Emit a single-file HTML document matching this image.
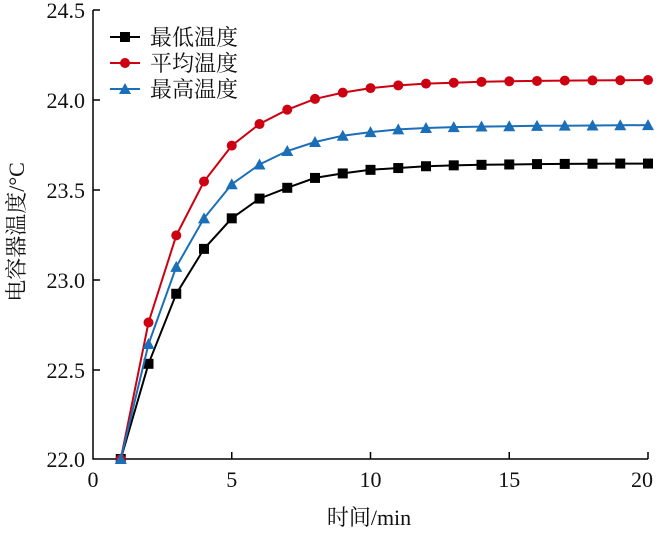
<!DOCTYPE html>
<html><head><meta charset="utf-8"><style>
body{margin:0;background:#fff;width:659px;height:531px;overflow:hidden}
text{font-family:"Liberation Serif","Noto Serif CJK SC",serif;fill:#111}
</style></head><body>
<svg id="s" width="659" height="531" xmlns="http://www.w3.org/2000/svg">
<g stroke="#000" stroke-width="1.5" fill="none">
<path d="M93,10 V459 H648"/>
<path d="M93,10 H100 M93,100 H100 M93,190 H100 M93,280 H100 M93,370 H100"/>
<path d="M231.75,459 V452 M370.5,459 V452 M509.25,459 V452 M648,459 V452"/>
</g>
<g font-size="22" text-anchor="end">
<text x="85" y="18">24.5</text><text x="85" y="108">24.0</text><text x="85" y="198">23.5</text>
<text x="85" y="288">23.0</text><text x="85" y="378">22.5</text><text x="85" y="467">22.0</text>
</g>
<g font-size="22" text-anchor="middle">
<text x="93" y="487">0</text><text x="231.75" y="487">5</text><text x="370.5" y="487">10</text>
<text x="509.25" y="487">15</text><text x="642" y="487">20</text>
<text x="369" y="525">时间/min</text>
</g>
<text font-size="22" text-anchor="middle" transform="translate(24,232) rotate(-90)">电容器温度/°C</text>
<g font-size="22">
<path d="M110,37 H140" stroke="#000" stroke-width="2"/><rect x="120" y="32" width="10" height="10" fill="#000"/>
<text x="150" y="45">最低温度</text>
<path d="M110,63 H140" stroke="#cc0011" stroke-width="2"/><circle cx="125" cy="63" r="5" fill="#cc0011"/>
<text x="150" y="71">平均温度</text>
<path d="M110,89 H140" stroke="#1a6fb8" stroke-width="2"/><path d="M125,83 L131,94 H119Z" fill="#1a6fb8"/>
<text x="150" y="97">最高温度</text>
</g>
<g id="d"></g>
</svg>
<script>
var B=[22.0,22.53,22.92,23.17,23.34,23.45,23.51,23.565,23.59,23.61,23.62,23.63,23.635,23.638,23.64,23.642,23.643,23.644,23.645,23.645];
var R=[22.0,22.76,23.245,23.545,23.745,23.865,23.945,24.005,24.04,24.065,24.08,24.09,24.095,24.1,24.103,24.105,24.107,24.108,24.109,24.11];
var U=[22.0,22.64,23.07,23.34,23.53,23.64,23.715,23.765,23.80,23.82,23.835,23.843,23.848,23.851,23.853,23.855,23.856,23.857,23.858,23.859];
function X(i){return 93+(i+1)*27.75}function Y(v){return 459-(v-22)*179.6}
var h='';
function ser(a,c,m){var p=a.map(function(v,i){return X(i).toFixed(1)+','+Y(v).toFixed(1)}).join(' ');
h+='<polyline points="'+p+'" fill="none" stroke="'+c+'" stroke-width="2"/>';
a.forEach(function(v,i){var x=X(i),y=Y(v);
if(m==0)h+='<rect x="'+(x-5)+'" y="'+(y-5)+'" width="10" height="10" fill="'+c+'"/>';
else if(m==1)h+='<circle cx="'+x+'" cy="'+y+'" r="5" fill="'+c+'"/>';
else h+='<path d="M'+x+','+(y-6)+' L'+(x+6)+','+(y+5)+' H'+(x-6)+'Z" fill="'+c+'"/>';});}
ser(B,'#000',0);ser(R,'#cc0011',1);ser(U,'#1a6fb8',2);
document.getElementById('d').innerHTML=h;
</script>
</body></html>
